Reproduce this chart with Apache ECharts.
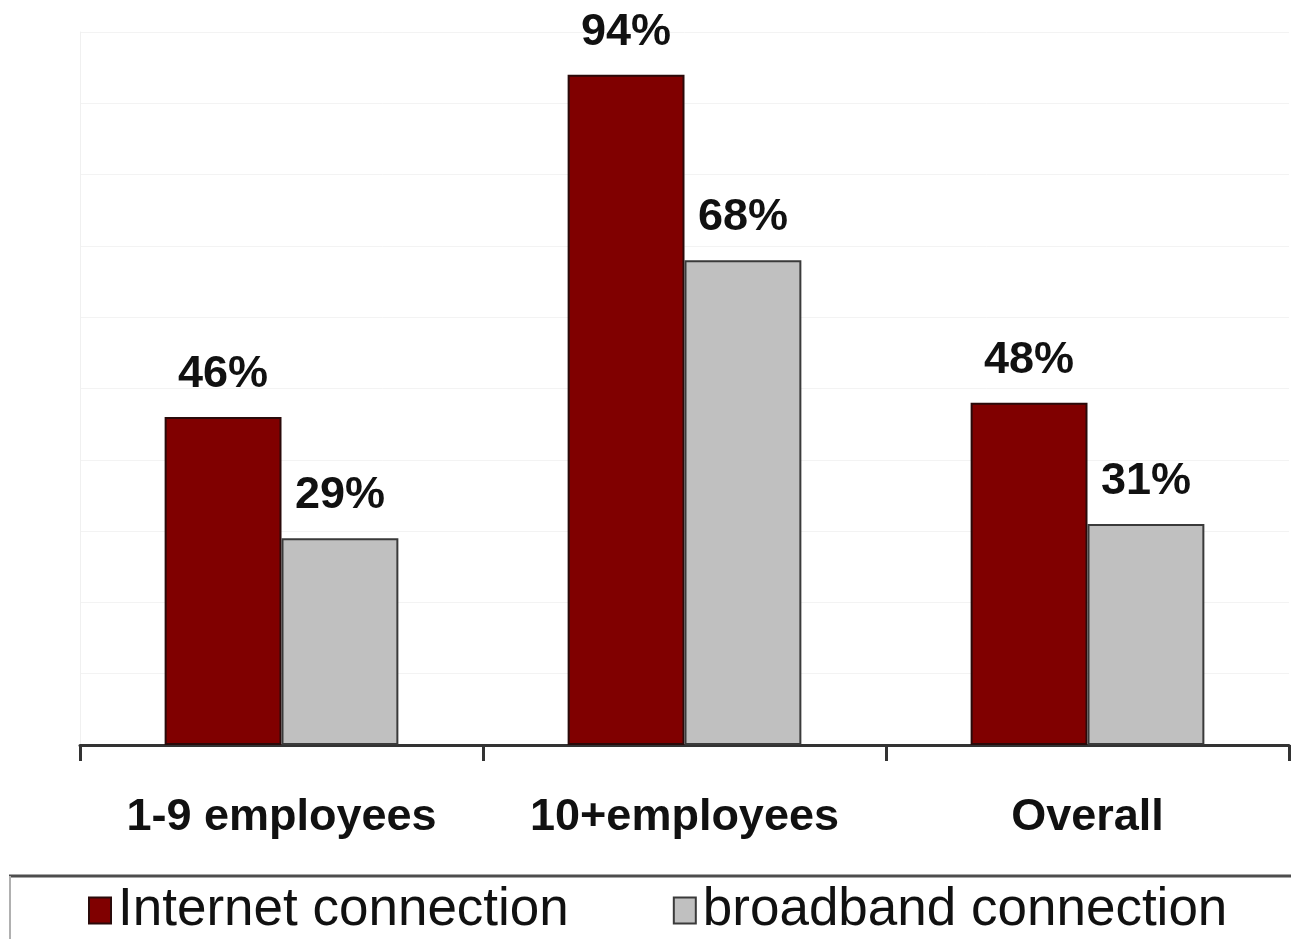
<!DOCTYPE html>
<html>
<head>
<meta charset="utf-8">
<script src="https://cdn.jsdelivr.net/npm/echarts@6/dist/echarts.min.js"></script>
<style>
html,body{margin:0;padding:0;background:#fff;}
#main{width:1291px;height:939px;}
</style>
</head>
<body>
<div id="main"></div>
<script>
// 数据
var categories = ['1-9 employees', '10+employees', 'Overall'];
var internetData = [46, 94, 48];
var broadbandData = [29, 68, 31];
var seriesNames = ['Internet connection', 'broadband connection'];

var myChart = echarts.init(document.getElementById('main'));

var labelStyle = {
    show: true,
    position: 'top',
    distance: 20,
    formatter: '{c}%',
    fontFamily: 'Liberation Sans, Arial, sans-serif',
    fontWeight: 'bold',
    fontSize: 45,
    color: '#111'
};

var option = {
    backgroundColor: '#fff',
    animation: false,
    grid: {left: 80, right: 2, top: 32, bottom: 194},
    legend: {
        left: 88,
        top: 884,
        padding: 0,
        icon: 'rect',
        itemWidth: 22,
        itemHeight: 26,
        itemGap: 104,
        textStyle: {
            fontFamily: 'Liberation Sans, Arial, sans-serif',
            fontSize: 53,
            color: '#111',
            padding: [0, 0, 0, 2]
        },
        data: seriesNames
    },
    xAxis: {
        type: 'category',
        data: categories,
        axisLine: {lineStyle: {color: '#333', width: 3}},
        axisTick: {show: true, interval: 0, length: 16, lineStyle: {color: '#333', width: 3}},
        axisLabel: {
            interval: 0,
            margin: 50,
            fontFamily: 'Liberation Sans, Arial, sans-serif',
            fontWeight: 'bold',
            fontSize: 45,
            color: '#111'
        }
    },
    yAxis: {
        type: 'value',
        min: 0,
        max: 100,
        interval: 10,
        axisLabel: {show: false},
        axisTick: {show: false},
        axisLine: {show: true, lineStyle: {color: '#f0f0f0', width: 1}},
        splitLine: {show: true, lineStyle: {color: '#f3f3f3', width: 1}}
    },
    series: [
        {
            name: seriesNames[0],
            type: 'bar',
            data: internetData,
            barGap: '0%',
            barCategoryGap: '42%',
            itemStyle: {color: '#800000', borderColor: '#2a0a0a', borderWidth: 2},
            label: labelStyle
        },
        {
            name: seriesNames[1],
            type: 'bar',
            data: broadbandData,
            itemStyle: {color: '#c0c0c0', borderColor: '#3a3a3a', borderWidth: 2},
            label: labelStyle
        }
    ],
    graphic: [
        // 图例外框
        {type: 'line', shape: {x1: 9, y1: 876, x2: 1291, y2: 876}, style: {stroke: '#4d4d4d', lineWidth: 3}},
        {type: 'line', shape: {x1: 10, y1: 876, x2: 10, y2: 939}, style: {stroke: '#b0b0b0', lineWidth: 2}}
    ]
};

myChart.setOption(option);
</script>
</body>
</html>
